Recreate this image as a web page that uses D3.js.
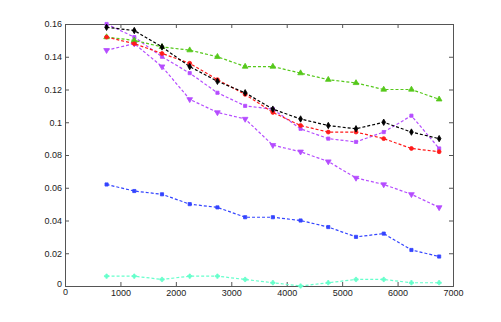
<!DOCTYPE html>
<html><head><meta charset="utf-8">
<script src="https://cdn.jsdelivr.net/npm/d3@7"></script>
<style>body{margin:0;background:#fff}svg{display:block}</style>
</head><body>
<script>
const xs = [750,1250,1750,2250,2750,3250,3750,4250,4750,5250,5750,6250,6750];
const blackDiamond = [0.158,0.156,0.146,0.134,0.125,0.118,0.108,0.102,0.098,0.096,0.100,0.094,0.090];
const redCircle    = [0.152,0.148,0.142,0.136,0.126,0.117,0.106,0.098,0.094,0.094,0.090,0.084,0.082];
const greenTri     = [0.152,0.150,0.146,0.144,0.140,0.134,0.134,0.130,0.126,0.124,0.120,0.120,0.114];
const purpleSquare = [0.160,0.152,0.140,0.130,0.118,0.110,0.108,0.096,0.090,0.088,0.094,0.104,0.084];
const purpleTriDn  = [0.144,0.148,0.134,0.114,0.106,0.102,0.086,0.082,0.076,0.066,0.062,0.056,0.048];
const blueSquare   = [0.062,0.058,0.056,0.050,0.048,0.042,0.042,0.040,0.036,0.030,0.032,0.022,0.018];
const cyanPlus     = [0.006,0.006,0.004,0.006,0.006,0.004,0.002,0.000,0.002,0.004,0.004,0.002,0.002];
const xTicks = [0,1000,2000,3000,4000,5000,6000,7000];
const yTicks = [0,0.02,0.04,0.06,0.08,0.1,0.12,0.14,0.16];

const series = [
  {v: cyanPlus, c: "#66ffcc", m: "plus"},
  {v: blueSquare, c: "#3344ff", m: "square"},
  {v: purpleTriDn, c: "#b54cff", m: "tridown"},
  {v: purpleSquare, c: "#b54cff", m: "square"},
  {v: greenTri, c: "#55c81a", m: "triup"},
  {v: redCircle, c: "#ff1a1a", m: "circle"},
  {v: blackDiamond, c: "#000000", m: "diamond"}
];

const W = 501, H = 322;
const L = 65, R = 453, T = 24, B = 286;
const svg = d3.select("body").append("svg").attr("width", W).attr("height", H);
const x = d3.scaleLinear().domain([0,7000]).range([L,R]);
const y = d3.scaleLinear().domain([0,0.16]).range([B,T]);

const axisColor = "#555";
const fmtY = d => d === 0 ? "0" : d3.format("")(+d.toFixed(2));
const gx = svg.append("g").attr("transform", `translate(0,${B})`)
  .call(d3.axisBottom(x).tickValues(xTicks).tickSize(-4).tickPadding(4).tickFormat(d3.format("d")));
const gy = svg.append("g").attr("transform", `translate(${L},0)`)
  .call(d3.axisLeft(y).tickValues(yTicks).tickSize(-4).tickPadding(3).tickFormat(fmtY));
const gt = svg.append("g").attr("transform", `translate(0,${T})`)
  .call(d3.axisTop(x).tickValues(xTicks).tickSize(-4).tickFormat(""));
const gr = svg.append("g").attr("transform", `translate(${R},0)`)
  .call(d3.axisRight(y).tickValues(yTicks).tickSize(-4).tickFormat(""));
[gx,gy,gt,gr].forEach(g=>{
  g.selectAll("path").attr("stroke", axisColor).attr("stroke-width",1);
  g.selectAll("line").attr("stroke", axisColor);
  g.selectAll("text").attr("fill","#222").style("font-family","'Liberation Sans', Arial, sans-serif").style("font-size","9px");
});
gy.selectAll(".tick").filter(d=>d===0).select("text").attr("dy","0.1em");
gx.selectAll(".tick").filter(d=>d===0).select("text").attr("dy","0.55em");

const line = d3.line().x((d,i)=>x(xs[i])).y(d=>y(d));
const sym = {
  square: d3.symbol().type(d3.symbolSquare).size(10),
  circle: d3.symbol().type(d3.symbolCircle).size(12),
  diamond: d3.symbol().type(d3.symbolDiamond).size(12),
  triup: d3.symbol().type(d3.symbolTriangle).size(14),
  tridown: d3.symbol().type(d3.symbolTriangle).size(14),
  plus: d3.symbol().type(d3.symbolCross).size(10)
};
series.forEach(s=>{
  svg.append("path").datum(s.v).attr("d", line).attr("fill","none")
    .attr("stroke", s.c).attr("stroke-width",1.2).attr("stroke-dasharray","3,2");
  svg.append("g").selectAll("path").data(s.v).join("path")
    .attr("d", sym[s.m]())
    .attr("transform",(d,i)=>`translate(${x(xs[i])},${y(d)})` + (s.m==="tridown"?" rotate(180)":""))
    .attr("fill", s.c).attr("stroke", s.c).attr("stroke-width",0.8);
});
</script>
</body></html>
